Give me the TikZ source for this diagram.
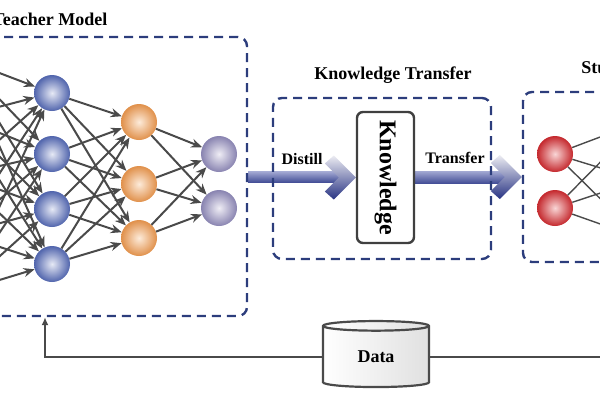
\documentclass[tikz,border=0pt]{standalone}
\usepackage{fontspec}
\setmainfont{Liberation Serif}
\usepackage{graphicx}
\usetikzlibrary{arrows.meta,positioning,shapes.geometric,calc,backgrounds}
\definecolor{frameDraw}{HTML}{2C3D7C}
\definecolor{edgeGray}{HTML}{4A4A4A}
\definecolor{blueOut}{HTML}{5064AC}
\definecolor{blueIn}{HTML}{E6E9F5}
\definecolor{orangeOut}{HTML}{E0904A}
\definecolor{orangeIn}{HTML}{FDEBDA}
\definecolor{purpleOut}{HTML}{8883B0}
\definecolor{purpleIn}{HTML}{EFEDF5}
\definecolor{redOut}{HTML}{C4282D}
\definecolor{redIn}{HTML}{F9D6D6}
\definecolor{shaftTop}{HTML}{A3A9D3}
\definecolor{shaftBot}{HTML}{414C95}
\definecolor{headTop}{HTML}{ECECF2}
\definecolor{headMid}{HTML}{6D76B4}
\definecolor{headBot}{HTML}{283383}
\tikzset{
  x=1pt, y=-1pt,
  neuron/.style ={circle, minimum size=36pt, inner sep=0pt, shading=radial},
  blueN/.style  ={neuron, inner color=blueIn,   outer color=blueOut},
  orangeN/.style={neuron, inner color=orangeIn, outer color=orangeOut},
  purpleN/.style={neuron, inner color=purpleIn, outer color=purpleOut},
  redN/.style   ={neuron, inner color=redIn,    outer color=redOut},
  frame/.style  ={draw=frameDraw, line width=2.4pt, dash pattern=on 9pt off 6pt, rounded corners=9pt, inner sep=0pt},
  ttl/.style    ={font=\fontsize{18}{20}\selectfont\bfseries},
  lbl/.style    ={font=\fontsize{16}{18}\selectfont\bfseries},
  edge/.style   ={draw=edgeGray, line width=2pt, -{Stealth[length=11pt,width=9pt]}},
  link/.style   ={draw=edgeGray, line width=2pt, -{Latex[length=8pt,width=7pt]}},
  kbox/.style   ={draw=black!75, line width=2.4pt, rounded corners=6pt, fill=white, minimum width=57pt, minimum height=131pt, inner sep=0pt, font=\fontsize{24}{26}\selectfont\bfseries},
  store/.style  ={cylinder, shape border rotate=90, aspect=0.26, draw=edgeGray, line width=2.2pt, minimum width=106pt, minimum height=66pt, inner sep=0pt, left color=white, right color=black!12, font=\fontsize{18}{20}\selectfont\bfseries},
  shaft/.style  ={top color=shaftTop, bottom color=shaftBot},
  head/.style   ={top color=headTop, middle color=headMid, bottom color=headBot},
}

\begin{document}
\begin{tikzpicture}
  \useasboundingbox (0,0) rectangle (600,400);
  \clip (0,0) rectangle (600,400);

  % boxes
  \node[frame, minimum width=404pt, minimum height=279pt] (teacher) at (45,176.5) {};
  \node[frame, minimum width=218pt, minimum height=161pt] (kt)      at (382,178.5) {};
  \node[frame, minimum width=230pt, minimum height=170pt] (student) at (638,177) {};
  \node[ttl] (tTitle) at (50,19)  {Teacher Model};
  \node[ttl] (kTitle) at (393,75) {Knowledge Transfer};
  \node[ttl] (sTitle) at (638,67) {Student Model};

  % teacher net
  \coordinate (in1) at (-40,58);  \coordinate (in2) at (-40,117);
  \coordinate (in3) at (-40,175); \coordinate (in4) at (-40,234);
  \coordinate (in5) at (-40,292);
  \node[blueN]   (b1) at (52,93)  {};
  \node[blueN]   (b2) at (52,154) {};
  \node[blueN]   (b3) at (52,209) {};
  \node[blueN]   (b4) at (52,264) {};
  \node[orangeN] (o1) at (139,122) {};
  \node[orangeN] (o2) at (139,184) {};
  \node[orangeN] (o3) at (139,238) {};
  \node[purpleN] (p1) at (219,154) {};
  \node[purpleN] (p2) at (219,208) {};
  \foreach \a in {in1,in2,in3,in4,in5} \foreach \b in {b1,b2,b3,b4} \draw[edge] (\a) -- (\b);
  \foreach \a in {b1,b2,b3,b4} \foreach \b in {o1,o2,o3} \draw[edge] (\a) -- (\b);
  \foreach \a in {o1,o2,o3} \foreach \b in {p1,p2} \draw[edge] (\a) -- (\b);

  % student net
  \node[redN] (r1) at (555,154) {};
  \node[redN] (r2) at (555,208) {};
  \coordinate (h1) at (640,122); \coordinate (h2) at (640,180); \coordinate (h3) at (640,238);
  \foreach \a in {r1,r2} \foreach \b in {h1,h2,h3} \draw[edge, line width=1.4pt] (\a) -- (\b);

  % knowledge
  \node[kbox] (know) at (385.5,177.5) {\rotatebox{-90}{Knowledge}};
  \node[lbl] (distill)  at (302,159) {Distill};
  \node[lbl] (transfer) at (455,158) {Transfer};
  \begin{scope}[on background layer]
    \shade[shaft] ([yshift=-6pt]teacher.east) rectangle ([xshift=-13pt,yshift=6pt]know.west);
    \shade[head] (know.west) -- ++(-22,-22) -- ++(-9,8) -- ++(14,14) -- ++(-14,14) -- ++(9,8) -- cycle;
    \shade[shaft] ([yshift=-6pt]know.east) rectangle ([xshift=-13pt,yshift=6pt]student.west);
    \shade[head] (student.west) -- ++(-22,-22) -- ++(-9,8) -- ++(14,14) -- ++(-14,14) -- ++(9,8) -- cycle;
  \end{scope}

  % data
  \node[store] (store) at (376,357) {Data};
  \draw[link] (store.west) -| (teacher.south);
  \draw[link] (store.east) -| (student.south);
\end{tikzpicture}
\end{document}
